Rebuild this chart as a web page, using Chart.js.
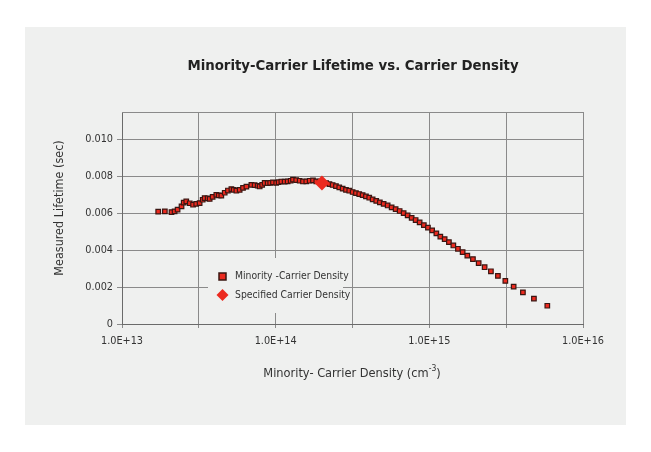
<!DOCTYPE html>
<html>
<head>
<meta charset="utf-8">
<title>Minority-Carrier Lifetime vs. Carrier Density</title>
<script src="https://cdn.jsdelivr.net/npm/chart.js@4.4.1/dist/chart.umd.min.js"></script>
<style>
  html, body { margin: 0; padding: 0; background: #ffffff; }
  canvas { display: block; }
</style>
</head>
<body>
<canvas id="lifetimeChart" width="651" height="452"></canvas>
<script>
// measured points (carrier density in cm^-3, lifetime in sec)
const density = [
  1.72e13, 1.90e13, 2.10e13, 2.20e13, 2.30e13, 2.44e13, 2.52e13, 2.62e13, 2.76e13, 2.90e13,
  3.04e13, 3.20e13, 3.35e13, 3.45e13, 3.61e13, 3.72e13, 3.89e13, 4.11e13, 4.26e13, 4.43e13,
  4.66e13, 4.89e13, 5.15e13, 5.33e13, 5.55e13, 5.83e13, 6.13e13, 6.45e13, 6.95e13, 7.30e13,
  7.64e13, 7.87e13, 8.17e13, 8.48e13, 8.87e13, 9.21e13, 9.60e13, 1.008e14, 1.046e14, 1.089e14,
  1.144e14, 1.197e14, 1.252e14, 1.296e14, 1.360e14, 1.433e14, 1.505e14, 1.582e14, 1.664e14, 1.749e14,
  1.837e14, 1.933e14, 2.037e14, 2.131e14, 2.239e14, 2.349e14, 2.468e14, 2.594e14, 2.729e14, 2.868e14,
  3.013e14, 3.170e14, 3.330e14, 3.499e14, 3.681e14, 3.868e14, 4.064e14, 4.277e14, 4.513e14, 4.764e14,
  5.043e14, 5.355e14, 5.685e14, 6.036e14, 6.410e14, 6.805e14, 7.225e14, 7.671e14, 8.144e14, 8.648e14,
  9.209e14, 9.793e14, 1.043e15, 1.111e15, 1.179e15, 1.258e15, 1.341e15, 1.433e15, 1.535e15, 1.647e15,
  1.767e15, 1.922e15, 2.094e15, 2.290e15, 2.516e15, 2.794e15, 3.123e15, 3.537e15, 4.064e15, 4.793e15,
  5.858e15
];
const lifetime = [
  0.00610, 0.00611, 0.00607, 0.00611, 0.00620, 0.00638, 0.00658, 0.00665, 0.00655, 0.00647,
  0.00652, 0.00656, 0.00674, 0.00683, 0.00682, 0.00679, 0.00690, 0.00701, 0.00698, 0.00696,
  0.00712, 0.00724, 0.00732, 0.00728, 0.00723, 0.00728, 0.00738, 0.00745, 0.00755, 0.00753,
  0.00750, 0.00746, 0.00755, 0.00765, 0.00764, 0.00766, 0.00768, 0.00766, 0.00769, 0.00773,
  0.00772, 0.00774, 0.00777, 0.00783, 0.00780, 0.00777, 0.00773, 0.00774, 0.00777, 0.00779,
  0.00774, 0.00772, 0.00766, 0.00764, 0.00759, 0.00754, 0.00748, 0.00741, 0.00734, 0.00728,
  0.00723, 0.00716, 0.00710, 0.00705, 0.00699, 0.00692, 0.00685, 0.00676, 0.00668, 0.00660,
  0.00652, 0.00643, 0.00633, 0.00623, 0.00613, 0.00601, 0.00589, 0.00576, 0.00564, 0.00551,
  0.00536, 0.00523, 0.00508, 0.00492, 0.00474, 0.00460, 0.00444, 0.00426, 0.00408, 0.00390,
  0.00371, 0.00352, 0.00330, 0.00308, 0.00286, 0.00261, 0.00234, 0.00203, 0.00172, 0.00138,
  0.00099
];

// the single specified point
const specifiedDensity = [2.0e14];
const specifiedLifetime = [0.00765];

const seriesNames = ['Minority -Carrier Density', 'Specified Carrier Density'];

const xTickValues = [1e13, 3.1623e13, 1e14, 3.1623e14, 1e15, 3.1623e15, 1e16];
const xTickLabels = ['1.0E+13', '', '1.0E+14', '', '1.0E+15', '', '1.0E+16'];
const yTickValues = [0, 0.002, 0.004, 0.006, 0.008, 0.010];
const yTickLabels = ['0', '0.002', '0.004', '0.006', '0.008', '0.010'];

const FONT = '"Liberation Sans Narrow", "DejaVu Sans Condensed", "Open Sans", sans-serif';
const TEXT = '#333333';
const GRID = '#8a8a8a';
const AXIS = '#6a6a6a';
const PANEL = '#eff0ef';
const RED = '#ec2a1f';
const DARK = '#3a1612';

Chart.defaults.font.family = FONT;
Chart.defaults.color = TEXT;

// grey panel behind the whole chart, plot box top edge, legend and titles
const panelPlugin = {
  id: 'panel',
  beforeDraw(chart) {
    const ctx = chart.ctx;
    ctx.save();
    ctx.fillStyle = '#ffffff';
    ctx.fillRect(0, 0, chart.width, chart.height);
    ctx.fillStyle = PANEL;
    ctx.fillRect(25, 27, 601, 398);
    ctx.restore();
  },
  beforeDatasetsDraw(chart) {
    const ctx = chart.ctx;
    const a = chart.chartArea;
    ctx.save();
    ctx.strokeStyle = GRID;
    ctx.lineWidth = 1;
    ctx.beginPath();
    ctx.moveTo(a.left, Math.round(a.top) + 0.5);
    ctx.lineTo(a.right, Math.round(a.top) + 0.5);
    ctx.stroke();

    // legend box sits inside the plot and hides the grid behind it
    const lx = a.left + 86, ly = a.top + 146;
    ctx.fillStyle = PANEL;
    ctx.fillRect(lx, ly, 135, 55);

    ctx.font = '10.3px ' + FONT;
    ctx.textBaseline = 'middle';
    ctx.textAlign = 'left';

    // square marker
    ctx.fillStyle = RED;
    ctx.strokeStyle = DARK;
    ctx.lineWidth = 1.5;
    ctx.fillRect(lx + 11, ly + 15, 7, 7);
    ctx.strokeRect(lx + 11, ly + 15, 7, 7);
    ctx.fillStyle = TEXT;
    ctx.fillText(seriesNames[0], lx + 27, ly + 18);

    // diamond marker
    ctx.fillStyle = RED;
    ctx.beginPath();
    ctx.moveTo(lx + 14.5, ly + 31);
    ctx.lineTo(lx + 20.5, ly + 37);
    ctx.lineTo(lx + 14.5, ly + 43);
    ctx.lineTo(lx + 8.5, ly + 37);
    ctx.closePath();
    ctx.fill();
    ctx.fillStyle = TEXT;
    ctx.fillText(seriesNames[1], lx + 27, ly + 37);
    ctx.restore();
  },
  afterDraw(chart) {
    const ctx = chart.ctx;
    ctx.save();
    ctx.fillStyle = '#222222';
    ctx.textAlign = 'center';
    ctx.textBaseline = 'middle';
    ctx.font = 'bold 14.8px ' + FONT;
    ctx.fillText('Minority-Carrier Lifetime vs. Carrier Density', 353, 66);

    // y axis title
    ctx.fillStyle = TEXT;
    ctx.font = '12.5px ' + FONT;
    ctx.save();
    ctx.translate(60, 208);
    ctx.rotate(-Math.PI / 2);
    ctx.fillText('Measured Lifetime (sec)', 0, 0);
    ctx.restore();

    // x axis title with superscript
    const main = 'Minority- Carrier Density (cm';
    const sup = '-3';
    const close = ')';
    const big = '12.7px ' + FONT;
    const small = '8.5px ' + FONT;
    ctx.font = big;
    const w1 = ctx.measureText(main).width;
    const w3 = ctx.measureText(close).width;
    ctx.font = small;
    const w2 = ctx.measureText(sup).width;
    const x = 352 - (w1 + w2 + w3) / 2;
    ctx.textAlign = 'left';
    ctx.font = big;
    ctx.fillText(main, x, 374);
    ctx.font = small;
    ctx.fillText(sup, x + w1, 369);
    ctx.font = big;
    ctx.fillText(close, x + w1 + w2, 374);
    ctx.restore();
  }
};

const measured = density.map((d, i) => ({ x: d, y: lifetime[i] }));
const specified = specifiedDensity.map((d, i) => ({ x: d, y: specifiedLifetime[i] }));

new Chart(document.getElementById('lifetimeChart'), {
  type: 'scatter',
  data: {
    datasets: [
      {
        label: seriesNames[1],
        data: specified,
        pointStyle: 'rectRot',
        pointRadius: 7.5,
        backgroundColor: RED,
        borderColor: RED,
        borderWidth: 0,
        order: 0
      },
      {
        label: seriesNames[0],
        data: measured,
        pointStyle: 'rect',
        pointRadius: 3.2,
        backgroundColor: RED,
        borderColor: DARK,
        borderWidth: 1.2,
        order: 1
      }
    ]
  },
  options: {
    responsive: false,
    animation: false,
    devicePixelRatio: 1,
    // y axis box 60 px wide, x axis box 40 px high -> plot area 122..583 x 112..324
    layout: { padding: { left: 62, right: 68, top: 112, bottom: 88 } },
    plugins: {
      legend: { display: false },
      title: { display: false },
      tooltip: { enabled: false }
    },
    scales: {
      x: {
        type: 'logarithmic',
        min: 1e13,
        max: 1e16,
        afterBuildTicks: s => { s.ticks = xTickValues.map(v => ({ value: v })); },
        afterFit: s => { s.height = 40; },
        ticks: {
          autoSkip: false,
          maxRotation: 0,
          minRotation: 0,
          padding: 7,
          font: { size: 10.8 },
          color: TEXT,
          callback: (v, i) => xTickLabels[i]
        },
        grid: { color: GRID, lineWidth: 1, tickLength: 4 },
        border: { color: AXIS, width: 1 }
      },
      y: {
        min: 0,
        max: 0.0115,
        afterBuildTicks: s => { s.ticks = yTickValues.map(v => ({ value: v })); },
        afterFit: s => { s.width = 60; },
        ticks: {
          padding: 4,
          font: { size: 10.8 },
          color: TEXT,
          callback: (v, i) => yTickLabels[i]
        },
        grid: { color: GRID, lineWidth: 1, tickLength: 5 },
        border: { color: AXIS, width: 1 }
      }
    }
  },
  plugins: [panelPlugin]
});
</script>
</body>
</html>
